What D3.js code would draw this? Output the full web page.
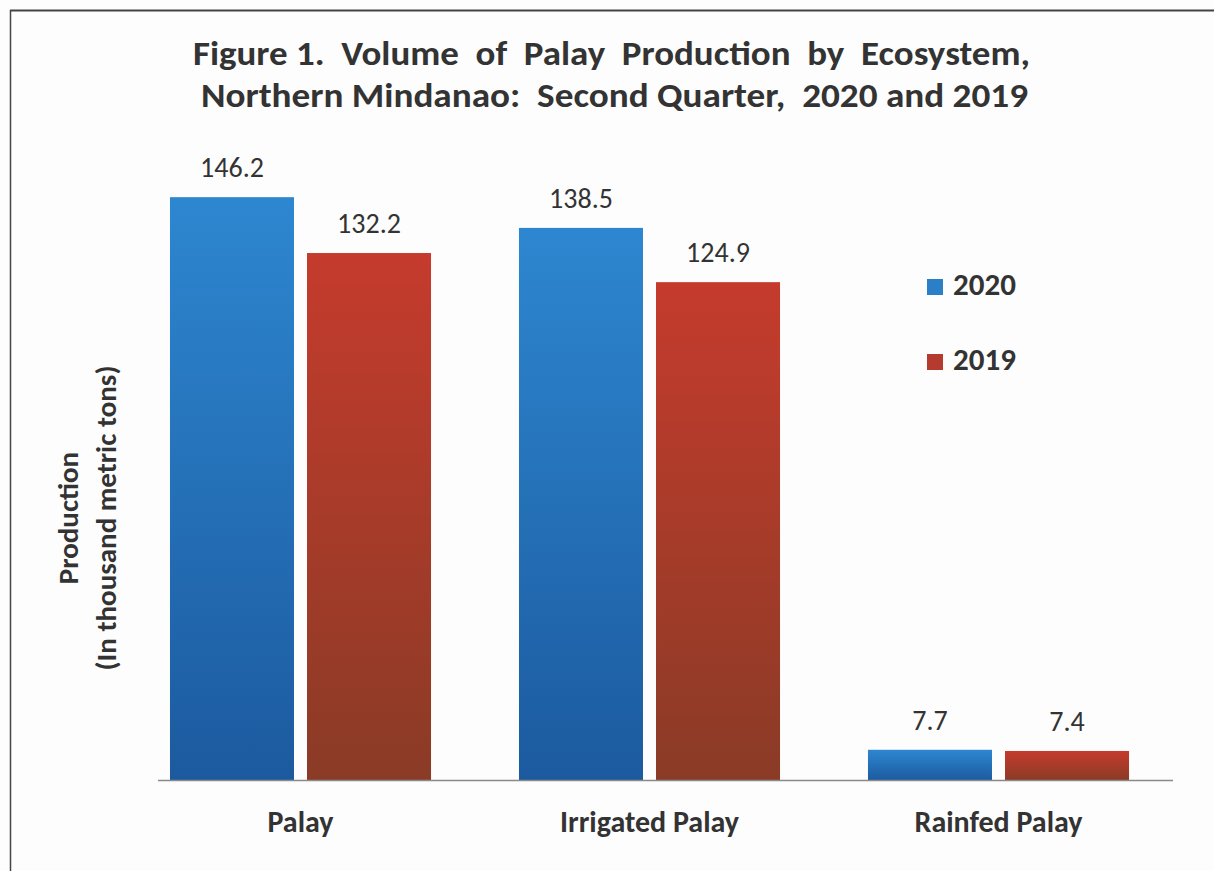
<!DOCTYPE html>
<html>
<head>
<meta charset="utf-8">
<script src="https://cdn.jsdelivr.net/npm/d3@7"></script>
<style>
  html, body { margin: 0; padding: 0; background: #fdfdfd; }
  svg { display: block; font-family: Carlito, Calibri, Lato, sans-serif; }
  text { white-space: pre; }
</style>
</head>
<body>
<svg id="chart" width="1214" height="871"></svg>
<script>
// Palay production by ecosystem, Northern Mindanao, Q2 (thousand metric tons)
const categories = ["Palay", "Irrigated Palay", "Rainfed Palay"];
const years = ["2020", "2019"];
const values2020 = [146.2, 138.5, 7.7];
const values2019 = [132.2, 124.9, 7.4];
const titleLines = [
  "Figure 1.  Volume  of  Palay  Production  by  Ecosystem,",
  "Northern Mindanao:  Second Quarter,  2020 and 2019"
];
const yTitleLines = ["Production", "(In thousand metric tons)"];

const series = { "2020": values2020, "2019": values2019 };
const rows = categories.map((c, i) => ({
  category: c,
  bars: years.map(y => ({ year: y, value: series[y][i] }))
}));

const svg = d3.select("#chart");
const W = 1214, H = 871;
const textColor = "#333";
const fontStack = "Carlito, Calibri, Lato, sans-serif";

// Frame lines (top and left)
svg.append("line").attr("x1", 10).attr("x2", W).attr("y1", 10.5).attr("y2", 10.5)
  .attr("stroke", "#444").attr("stroke-width", 2);
svg.append("line").attr("x1", 10.5).attr("x2", 10.5).attr("y1", 10).attr("y2", H)
  .attr("stroke", "#444").attr("stroke-width", 1.5);

// Gradients
const defs = svg.append("defs");
const gradStops = {
  "2020": ["#2d87d0", "#1c5a9f"],
  "2019": ["#c53b2d", "#8a3b26"]
};
years.forEach(y => {
  const g = defs.append("linearGradient").attr("id", "grad" + y)
    .attr("x1", 0).attr("x2", 0).attr("y1", 0).attr("y2", 1);
  g.append("stop").attr("offset", "0%").attr("stop-color", gradStops[y][0]);
  g.append("stop").attr("offset", "100%").attr("stop-color", gradStops[y][1]);
});
const legendColor = { "2020": "#2b7fc6", "2019": "#b53b2e" };

// Scales
const baseY = 780.5;
const y = d3.scaleLinear().domain([0, 160]).range([baseY, baseY - 160 * 3.99]);
const x0 = d3.scaleBand().domain(categories).range([126, 1173])
  .paddingInner(0.252).paddingOuter(0.126);
const x1 = d3.scaleBand().domain(years).range([0, x0.bandwidth()])
  .paddingInner(0.095).paddingOuter(0);

// Bars
const groups = svg.append("g").selectAll("g").data(rows).join("g")
  .attr("transform", d => `translate(${x0(d.category)},0)`);

groups.selectAll("rect").data(d => d.bars).join("rect")
  .attr("x", d => x1(d.year))
  .attr("y", d => y(d.value))
  .attr("width", x1.bandwidth())
  .attr("height", d => y(0) - y(d.value))
  .attr("fill", d => `url(#grad${d.year})`);

// Value labels
groups.selectAll("text.val").data(d => d.bars).join("text")
  .attr("class", "val")
  .attr("x", d => x1(d.year) + x1.bandwidth() / 2)
  .attr("y", d => y(d.value) - 20)
  .attr("text-anchor", "middle")
  .attr("font-size", 28)
  .attr("fill", textColor)
  .text(d => d.value.toFixed(1));

// Baseline axis
const xAxis = d3.axisBottom(x0).tickSize(0).tickPadding(30);
const axisG = svg.append("g").attr("transform", `translate(0,${baseY})`).call(xAxis);
axisG.select(".domain").attr("d", "M158,0H1173").attr("stroke", "#8a8a8a").attr("stroke-width", 1.5);
axisG.selectAll("text")
  .attr("font-family", fontStack)
  .attr("font-size", 30).attr("font-weight", "bold").attr("fill", textColor);

// Title
const titleX = [193, 201], titleLen = [837, 827], titleY = [65, 107];
svg.append("g").selectAll("text").data(titleLines).join("text")
  .attr("x", (d, i) => titleX[i])
  .attr("y", (d, i) => titleY[i])
  .attr("textLength", (d, i) => titleLen[i])
  .attr("lengthAdjust", "spacingAndGlyphs")
  .attr("font-size", 35).attr("font-weight", "bold").attr("fill", textColor)
  .text(d => d);

// Y-axis title
svg.append("g").attr("transform", "translate(0,518) rotate(-90)")
  .selectAll("text").data(yTitleLines).join("text")
  .attr("x", 0)
  .attr("y", (d, i) => [78, 116][i])
  .attr("text-anchor", "middle")
  .attr("font-size", 29).attr("font-weight", "bold").attr("fill", textColor)
  .text(d => d);

// Legend
const legend = svg.append("g").selectAll("g").data(years).join("g")
  .attr("transform", (d, i) => `translate(927,${279 + i * 75})`);
legend.append("rect").attr("width", 16).attr("height", 16)
  .attr("fill", d => legendColor[d]);
legend.append("text").attr("x", 26).attr("y", 16)
  .attr("font-size", 31).attr("font-weight", "bold").attr("fill", textColor)
  .text(d => d);
</script>
</body>
</html>
